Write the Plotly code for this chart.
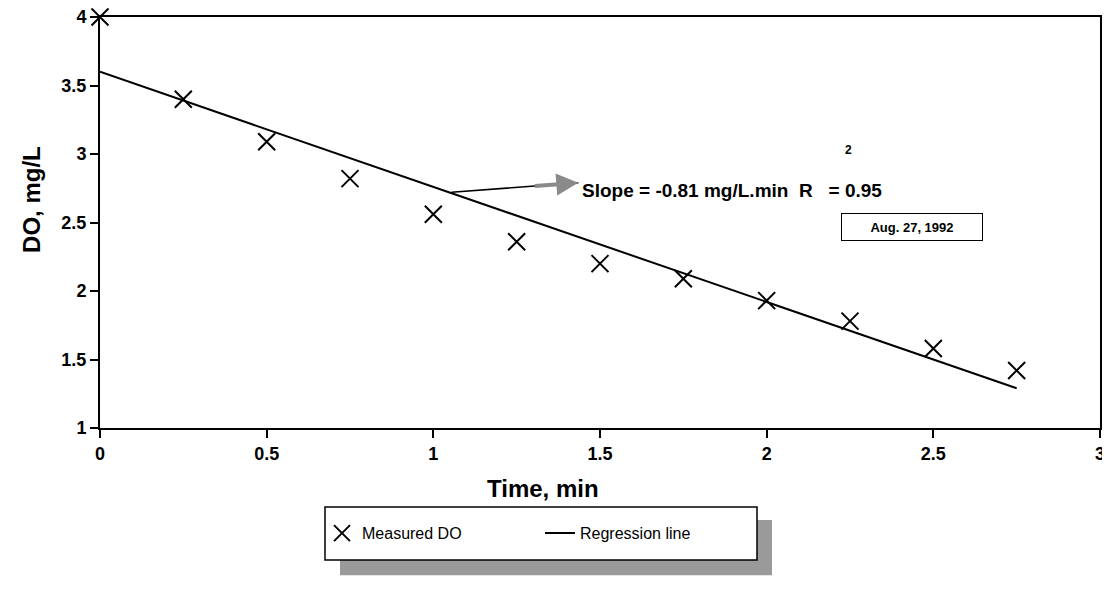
import plotly.graph_objects as go

# measured dissolved oxygen
time_min = [0, 0.25, 0.5, 0.75, 1.0, 1.25, 1.5, 1.75, 2.0, 2.25, 2.5, 2.75]
do_mgl = [4.0, 3.40, 3.09, 2.82, 2.56, 2.36, 2.20, 2.09, 1.93, 1.78, 1.58, 1.42]

# regression line end points
reg_x = [0, 2.75]
reg_y = [3.6, 1.29]

x_ticks = [0, 0.5, 1, 1.5, 2, 2.5, 3]
x_tick_text = ["0", "0.5", "1", "1.5", "2", "2.5", "3"]
y_ticks = [1, 1.5, 2, 2.5, 3, 3.5, 4]
y_tick_text = ["1", "1.5", "2", "2.5", "3", "3.5", "4"]

font = "Liberation Sans"

fig = go.Figure()
fig.add_trace(go.Scatter(
    x=time_min, y=do_mgl, mode="markers", name="Measured DO",
    marker=dict(symbol="x-thin", size=17, line=dict(width=2, color="black"), color="black"),
    cliponaxis=False,
))
fig.add_trace(go.Scatter(
    x=reg_x, y=reg_y, mode="lines", name="Regression line",
    line=dict(color="black", width=2),
))

axis_common = dict(
    showline=True, linecolor="black", linewidth=2, mirror=True,
    ticks="outside", ticklen=8, tickwidth=1.5, tickcolor="black",
    showgrid=False, zeroline=False, automargin=False, ticklabeloverflow="allow",
    tickfont=dict(family=font, size=18, color="black", weight="bold"),
)

# the page body adds an 8px offset, so margins are shifted by that amount
fig.update_layout({
    "width": 1110,
    "height": 602,
    "autosize": False,
    "margin": dict(l=92, r=18, t=9, b=182),
    "plot_bgcolor": "white",
    "paper_bgcolor": "white",
    "showlegend": True,
    "legend": dict(
        orientation="h", x=0.222, y=-0.256, xanchor="left", yanchor="middle",
        bgcolor="rgba(0,0,0,0)", borderwidth=0,
        font=dict(family=font, size=16, color="black"),
        entrywidth=173,
    ),
    "xaxis": dict(axis_common, range=[0, 3], tickvals=x_ticks, ticktext=x_tick_text),
    "yaxis": dict(axis_common, range=[1, 4], tickvals=y_ticks, ticktext=y_tick_text),
})

# axis titles
fig.add_annotation(text="<b>Time, min</b>", xref="paper", yref="paper", x=0.443, y=-0.146,
                   xanchor="center", yanchor="middle", showarrow=False,
                   font=dict(family=font, size=24, color="black"))
fig.add_annotation(text="<b>DO, mg/L</b>", xref="paper", yref="paper", x=-0.068, y=0.555,
                   xanchor="center", yanchor="middle", textangle=-90, showarrow=False,
                   font=dict(family=font, size=24, color="black"))

# slope text and arrow
fig.add_annotation(text="<b>Slope = -0.81 mg/L.min  R   = 0.95</b>", xref="x", yref="y",
                   x=1.44, y=2.73, xanchor="left", showarrow=False,
                   font=dict(family=font, size=19, color="black"))
fig.add_annotation(text="<b>2</b>", xref="x", yref="y", x=2.244, y=3.03, showarrow=False,
                   font=dict(family=font, size=12, color="black"))
fig.add_annotation(text="", xref="x", yref="y", x=1.435, y=2.79, ax=1.05, ay=2.72,
                   axref="x", ayref="y", showarrow=True, arrowhead=0, arrowwidth=1.5,
                   arrowcolor="black")
fig.add_annotation(text="", xref="x", yref="y", x=1.435, y=2.79, ax=1.3, ay=2.765,
                   axref="x", ayref="y", showarrow=True, arrowhead=2, arrowsize=1.1,
                   arrowwidth=4, arrowcolor="#8a8a8a")

# date box
fig.add_annotation(text="<b>Aug. 27, 1992</b>", xref="x", yref="y", x=2.436, y=2.47,
                   showarrow=False, width=132, height=18, bordercolor="black", borderwidth=1,
                   borderpad=4, bgcolor="white", font=dict(family=font, size=13, color="black"))

# legend shadow and frame
fig.add_shape(type="rect", xref="paper", yref="paper", x0=0.24, x1=0.672, y0=-0.358, y1=-0.224,
              fillcolor="#9a9a9a", line=dict(width=0), layer="above")
fig.add_shape(type="rect", xref="paper", yref="paper", x0=0.225, x1=0.657, y0=-0.321, y1=-0.192,
              fillcolor="white", line=dict(width=1.5, color="black"), layer="above")

fig.write_html("out.html")
